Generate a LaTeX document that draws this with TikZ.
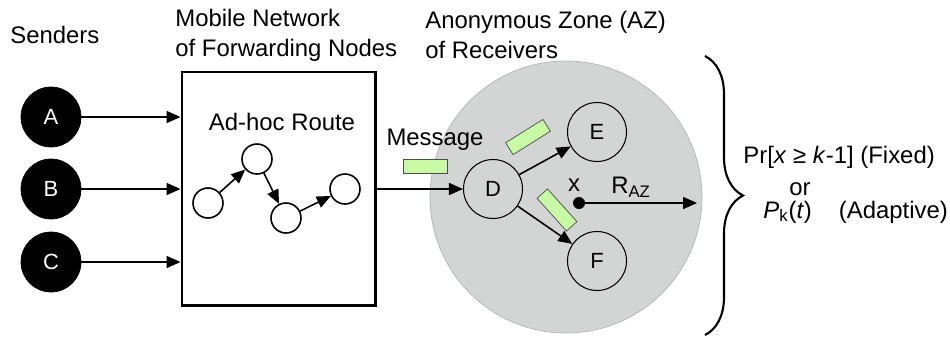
\documentclass[tikz,border=0pt]{standalone}
\usepackage{fontspec}
\setmainfont{Liberation Sans}
\usetikzlibrary{arrows.meta,decorations.pathreplacing}

\definecolor{zonegray}{RGB}{211,213,213}
\definecolor{msggreen}{RGB}{200,250,165}

\begin{document}
\begin{tikzpicture}[
	every node/.style={ font=\fontsize{13.6}{17}\selectfont },
	txt/.style={ inner sep=0pt },
	sender/.style={ circle, draw, fill=black, text=white, inner sep=0pt, minimum size=1.2cm, font=\fontsize{12.5}{15}\selectfont },
	hop/.style={ circle, draw, line width=0.9pt, fill=white, inner sep=0pt, minimum size=0.6cm },
	receiver/.style={ circle, draw, line width=0.6pt, inner sep=0pt, minimum size=1.18cm, font=\fontsize{12.5}{15}\selectfont },
	msg/.style={ rectangle, draw=black!70, fill=msggreen, thin, inner sep=0pt, minimum width=0.88cm, minimum height=0.28cm },
	link/.style={ line width=0.9pt, -{Triangle[length=0.28cm,width=0.24cm]} }
]
\useasboundingbox (0,0) rectangle (19,6.74);

\node[txt, anchor=west] at (0.2,6.04) (senders) {Senders};
\node[sender] at (1.02,4.40) (A) {A};
\node[sender] at (1.02,2.96) (B) {B};
\node[sender] at (1.02,1.50) (C) {C};

\node[draw, line width=1.7pt, inner sep=0pt, minimum width=3.86cm, minimum height=4.66cm] at (5.57,2.97) (net) {};
\node[txt, anchor=west, align=left] at (3.5,6.04) (nettitle) {Mobile Network\\of Forwarding Nodes};
\draw[link] (A) -- (A -| net.west);
\draw[link] (B) -- (B -| net.west);
\draw[link] (C) -- (C -| net.west);

\node[txt] at (5.64,4.30) (route) {Ad-hoc Route};
\node[hop] at (4.16,2.68) (h1) {};
\node[hop] at (5.14,3.56) (h2) {};
\node[hop] at (5.72,2.38) (h3) {};
\node[hop] at (6.90,2.96) (h4) {};
\draw[link] (h1) -- (h2);
\draw[link] (h2) -- (h3);
\draw[link] (h3) -- (h4);

\node[circle, fill=zonegray, draw=zonegray!85!black, inner sep=0pt, minimum size=5.44cm] at (11.32,2.80) (zone) {};
\node[txt, anchor=west, align=left] at (8.5,6.04) (zonetitle) {Anonymous Zone (AZ)\\of Receivers};

\node[receiver] at (9.86,2.96) (D) {D};
\node[receiver] at (11.94,4.10) (E) {E};
\node[receiver] at (11.94,1.52) (F) {F};
\draw[link] (net.east |- D) -- (D);
\draw[link] (D) -- (E);
\draw[link] (D) -- (F);

\node[txt] at (8.70,3.94) (message) {Message};
\node[msg] at (8.51,3.42) (m1) {};
\node[msg, rotate=32] at (10.56,4.00) (m2) {};
\node[msg, rotate=-48] at (11.14,2.54) (m3) {};

\node[circle, fill, inner sep=0pt, minimum size=0.24cm] at (11.58,2.68) (x) {};
\node[txt] at (11.48,3.04) (xlab) {x};
\coordinate (rend) at (13.94,2.68);
\draw[link] (x) -- (rend);
\node[txt] at (12.62,3.00) (raz) {R\textsubscript{AZ}};

\coordinate (btop) at (14.1,5.62);
\coordinate (bbot) at (14.1,0.04);
\draw[line width=1.2pt, decorate, decoration={brace, amplitude=0.76cm}] (btop) -- (bbot);

\node[txt, anchor=west] at (14.86,3.60) (fixed) {Pr[\textit{x} ≥ \textit{k}-1] (Fixed)};
\node[txt] at (16.0,2.96) (orword) {or};
\node[txt, anchor=west] at (15.26,2.50) (adaptive) {\textit{P}\textsubscript{k}(\textit{t})\hspace{0.54cm}(Adaptive)};

\end{tikzpicture}
\end{document}
